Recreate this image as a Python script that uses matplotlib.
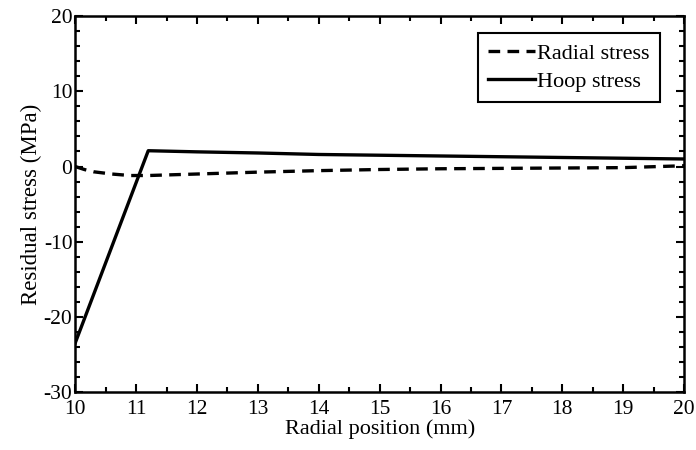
import matplotlib.pyplot as plt
import numpy as np
from matplotlib.ticker import MultipleLocator

plt.rcParams['font.family'] = ['Liberation Serif', 'DejaVu Serif']
plt.rcParams['axes.unicode_minus'] = False

# radial stress
r_x = [10.0, 10.15, 10.3, 10.6, 10.9, 11.2, 12.0, 13.0, 14.0, 15.0, 16.0, 17.0, 18.0, 19.0, 19.6, 20.0]
r_y = [0.0, -0.4, -0.7, -1.0, -1.2, -1.2, -1.0, -0.75, -0.55, -0.4, -0.3, -0.25, -0.2, -0.15, 0.0, 0.1]
# hoop stress
h_x = [10.0, 11.2, 12.0, 13.0, 14.0, 15.0, 16.0, 17.0, 18.0, 19.0, 20.0]
h_y = [-23.5, 2.1, 1.95, 1.8, 1.6, 1.5, 1.4, 1.3, 1.2, 1.1, 1.0]

fig = plt.figure(figsize=(6.96, 4.5), dpi=100)
ax = fig.add_axes([0.108, 0.129, 0.875, 0.835])

ax.plot(r_x, r_y, 'k--', lw=2.4, dashes=(3.5, 2.2), label='Radial stress')
ax.plot(h_x, h_y, 'k-', lw=2.4, label='Hoop stress')

ax.set_xlim(10, 20)
ax.set_ylim(-30, 20)
ax.set_xticks(np.arange(10, 21, 1))
ax.set_yticks([-30, -20, -10, 0, 10, 20])
ax.xaxis.set_minor_locator(MultipleLocator(0.5))
ax.yaxis.set_minor_locator(MultipleLocator(2))
ax.tick_params(which='both', direction='in', top=True, right=True, width=1.5, labelsize=15.5)
ax.tick_params(which='major', length=6)
ax.tick_params(which='minor', length=3.5)
ax.tick_params(axis='x', which='major', pad=6)
ax.tick_params(axis='y', which='major', pad=2)
for s in ax.spines.values():
    s.set_linewidth(1.8)

ax.set_xlabel('Radial position (mm)', fontsize=16, labelpad=0)
ax.set_ylabel('Residual stress (MPa)', fontsize=16.5, labelpad=1)

leg = ax.legend(loc='upper right', fontsize=16, fancybox=False, framealpha=1,
                edgecolor='black', handlelength=2.1, handletextpad=0.1,
                borderpad=0.45, labelspacing=0.35, borderaxespad=0,
                bbox_to_anchor=(0.96, 0.955))
leg.get_frame().set_linewidth(1.5)

plt.savefig('out.png')
